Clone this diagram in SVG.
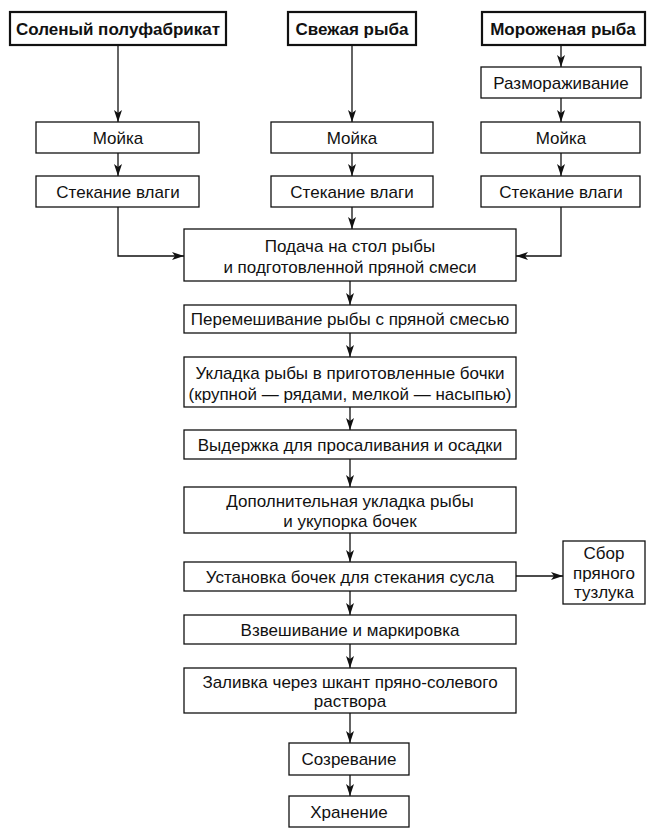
<svg xmlns="http://www.w3.org/2000/svg" width="657" height="831" viewBox="0 0 657 831">
<style>
.b{fill:#fff;stroke:#111;stroke-width:1.3}
.bt{fill:#fff;stroke:#111;stroke-width:2.2}
.t{font-family:"Liberation Sans",Arial,sans-serif;font-size:17px;fill:#111;text-anchor:middle}
.tb{font-family:"Liberation Sans",Arial,sans-serif;font-size:17px;font-weight:bold;fill:#111;text-anchor:middle}
.c{fill:none;stroke:#111;stroke-width:1.3}
</style>
<defs>
<marker id="a" viewBox="0 0 12 8" refX="12" refY="4" markerWidth="12" markerHeight="8" markerUnits="userSpaceOnUse" orient="auto">
<path d="M0,0 L12,4 L0,8 L3,4 Z" fill="#111"/>
</marker>
</defs>
<rect width="657" height="831" fill="#fff"/>
<g id="connectors">
<path class="c" d="M118,45 V122" marker-end="url(#a)"/>
<path class="c" d="M352,45 V122" marker-end="url(#a)"/>
<path class="c" d="M561,45 V67" marker-end="url(#a)"/>
<path class="c" d="M561,98 V122" marker-end="url(#a)"/>
<path class="c" d="M118,153 V176" marker-end="url(#a)"/>
<path class="c" d="M352,153 V176" marker-end="url(#a)"/>
<path class="c" d="M561,153 V176" marker-end="url(#a)"/>
<path class="c" d="M118,207 V256 H184" marker-end="url(#a)"/>
<path class="c" d="M352,207 V229" marker-end="url(#a)"/>
<path class="c" d="M561,207 V256 H516" marker-end="url(#a)"/>
<path class="c" d="M350,281 V305" marker-end="url(#a)"/>
<path class="c" d="M350,333 V357" marker-end="url(#a)"/>
<path class="c" d="M350,407 V430" marker-end="url(#a)"/>
<path class="c" d="M350,459 V487" marker-end="url(#a)"/>
<path class="c" d="M350,533 V562" marker-end="url(#a)"/>
<path class="c" d="M516,576 H563" marker-end="url(#a)"/>
<path class="c" d="M350,591 V615" marker-end="url(#a)"/>
<path class="c" d="M350,644 V668" marker-end="url(#a)"/>
<path class="c" d="M350,713 V743" marker-end="url(#a)"/>
<path class="c" d="M350,775 V796" marker-end="url(#a)"/>
</g>
<g id="n1"><rect class="bt" x="10" y="12" width="216" height="33"/><text class="tb" x="118" y="35">Соленый полуфабрикат</text></g>
<g id="n2"><rect class="bt" x="288" y="12" width="128" height="33"/><text class="tb" x="352" y="35">Свежая рыба</text></g>
<g id="n3"><rect class="bt" x="482" y="12" width="163" height="33"/><text class="tb" x="563" y="35">Мороженая рыба</text></g>
<g id="n4"><rect class="b" x="481" y="67" width="160" height="31"/><text class="t" x="561" y="89">Размораживание</text></g>
<g id="n5"><rect class="b" x="36" y="122" width="163" height="31"/><text class="t" x="118" y="144">Мойка</text></g>
<g id="n6"><rect class="b" x="271" y="122" width="162" height="31"/><text class="t" x="352" y="144">Мойка</text></g>
<g id="n7"><rect class="b" x="481" y="122" width="159" height="31"/><text class="t" x="561" y="144">Мойка</text></g>
<g id="n8"><rect class="b" x="36" y="176" width="163" height="31"/><text class="t" x="118" y="198">Стекание влаги</text></g>
<g id="n9"><rect class="b" x="271" y="176" width="162" height="31"/><text class="t" x="352" y="198">Стекание влаги</text></g>
<g id="n10"><rect class="b" x="481" y="176" width="159" height="31"/><text class="t" x="561" y="198">Стекание влаги</text></g>
<g id="n11"><rect class="b" x="184" y="229" width="332" height="52"/><text class="t" x="350" y="252">Подача на стол рыбы</text><text class="t" x="350" y="273">и подготовленной пряной смеси</text></g>
<g id="n12"><rect class="b" x="184" y="305" width="332" height="28"/><text class="t" x="350" y="325">Перемешивание рыбы с пряной смесью</text></g>
<g id="n13"><rect class="b" x="184" y="357" width="332" height="50"/><text class="t" x="350" y="379">Укладка рыбы в приготовленные бочки</text><text class="t" x="350" y="400">(крупной — рядами, мелкой — насыпью)</text></g>
<g id="n14"><rect class="b" x="184" y="430" width="332" height="29"/><text class="t" x="350" y="451">Выдержка для просаливания и осадки</text></g>
<g id="n15"><rect class="b" x="184" y="487" width="332" height="46"/><text class="t" x="350" y="507">Дополнительная укладка рыбы</text><text class="t" x="350" y="527">и укупорка бочек</text></g>
<g id="n16"><rect class="b" x="184" y="562" width="332" height="29"/><text class="t" x="350" y="583">Установка бочек для стекания сусла</text></g>
<g id="n17"><rect class="b" x="563" y="541" width="82" height="63"/><text class="t" x="604" y="559">Сбор</text><text class="t" x="604" y="579">пряного</text><text class="t" x="604" y="598">тузлука</text></g>
<g id="n18"><rect class="b" x="184" y="615" width="332" height="29"/><text class="t" x="350" y="636">Взвешивание и маркировка</text></g>
<g id="n19"><rect class="b" x="184" y="668" width="332" height="45"/><text class="t" x="350" y="688">Заливка через шкант пряно-солевого</text><text class="t" x="350" y="707">раствора</text></g>
<g id="n20"><rect class="b" x="289" y="743" width="120" height="32"/><text class="t" x="349" y="765">Созревание</text></g>
<g id="n21"><rect class="b" x="289" y="796" width="120" height="31"/><text class="t" x="349" y="818">Хранение</text></g>
</svg>
